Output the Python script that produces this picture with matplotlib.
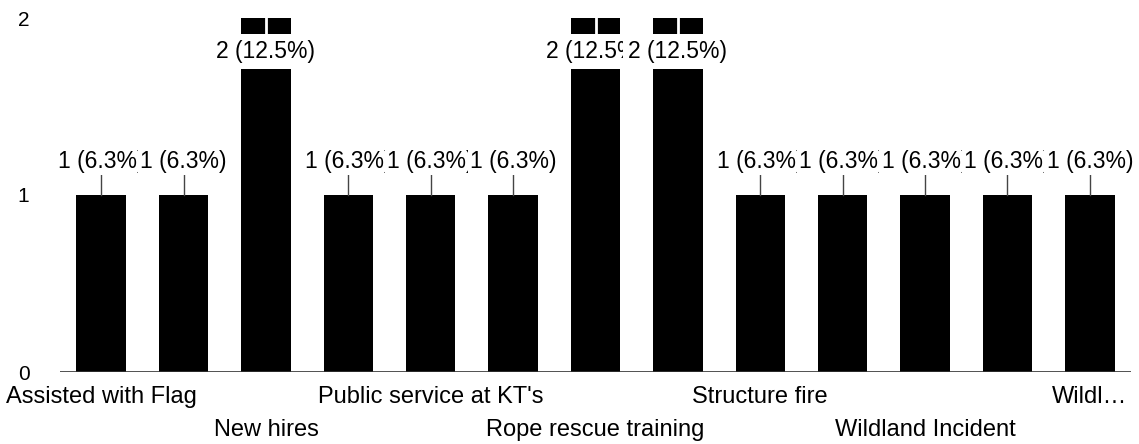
import matplotlib.pyplot as plt
import numpy as np

# categories (only every other label is shown in the original chart)
categories = ["Assisted with Flag", "", "New hires", "", "Public service at KT's", "",
              "Rope rescue training", "", "Structure fire", "", "Wildland Incident", "", "Wildl…"]
counts = [1, 1, 2, 1, 1, 1, 2, 2, 1, 1, 1, 1, 1]
total = sum(counts)

plt.rcParams['font.family'] = ['Liberation Sans', 'DejaVu Sans']

fig = plt.figure(figsize=(11.39, 4.44), dpi=100)
ax = fig.add_axes([60/1139, 72/444, 1071/1139, 354/444])

x = np.arange(len(counts))
ax.bar(x, counts, width=0.6, color='black', zorder=2)
ax.axhline(0, color='#333333', lw=1.2, zorder=3)

ax.set_xlim(-0.5, len(counts) - 0.5)
ax.set_ylim(0, 2)

# data labels, later ones drawn on top of earlier ones
for i, v in enumerate(counts):
    pct = np.floor(v / total * 1000 + 0.5) / 10
    txt = "%d (%.1f%%)" % (v, pct)
    if v >= 2:
        # label inside the bar, white leader to the top
        ax.plot([i, i], [1.89, 2.0], color='white', lw=2, zorder=4 + 2*i)
        ax.text(i, 1.81, txt, ha='center', va='center', fontsize=16.5,
                bbox=dict(boxstyle='square,pad=0.25', fc='white', ec='none'),
                zorder=5 + 2*i)
    else:
        ax.plot([i, i], [v, v + 0.14], color='#444444', lw=1, zorder=4 + 2*i)
        ax.text(i, v + 0.19, txt, ha='center', va='center', fontsize=16.5,
                bbox=dict(boxstyle='square,pad=0.1', fc='white', ec='none'),
                zorder=5 + 2*i)

# x labels on two alternating rows
ax.set_xticks([])
shown = [i for i, c in enumerate(categories) if c]
for k, i in enumerate(shown):
    ax.annotate(categories[i], (i, 0), xytext=(0, -25 if k % 2 == 0 else -58),
                textcoords='offset pixels', ha='center', va='center',
                fontsize=17, annotation_clip=False)

ax.set_yticks([0, 1, 2])
ax.set_yticklabels(['0', '1', '2'], fontsize=15)
ax.tick_params(axis='y', length=0, pad=22)

for s in ax.spines.values():
    s.set_visible(False)

fig.savefig('out.png', dpi=100)
